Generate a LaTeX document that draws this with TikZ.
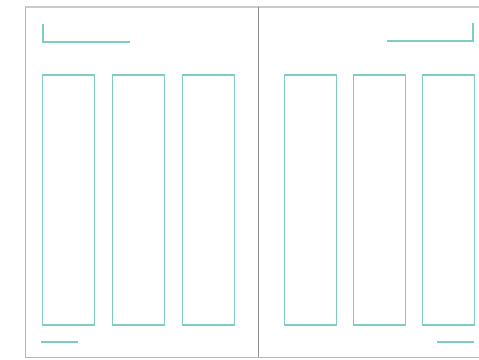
\documentclass[tikz,border=0pt]{standalone}
\usepackage{tikz}
\usetikzlibrary{positioning}

\definecolor{guide}{HTML}{7FCCC2}
\definecolor{pageedge}{HTML}{B4B4B4}
\definecolor{spine}{HTML}{8C8C8C}

\begin{document}
\begin{tikzpicture}[
  x=1pt, y=-1pt,
  col/.style={draw=guide, line width=1.1pt, minimum width=52pt, minimum height=250pt, inner sep=0pt},
  rule/.style={draw=guide, line width=1.3pt},
  edge/.style={draw=pageedge, line width=1pt}
]
\useasboundingbox (0,0) rectangle (479,359);
% page outline and spine
\draw[edge, line width=2pt, draw=pageedge!70] (479,7) -- (25,7);
\draw[edge] (25,7) -- (25,357) -- (479,357);
\draw[draw=spine, line width=0.9pt] (258,7) -- (258,357);
% left page
\node[col] (l1) at (68.5,200) {};
\node[col, right=17pt of l1] (l2) {};
\node[col, right=17pt of l2] (l3) {};
\draw[rule] (43,24) -- (43,42) -- (130,42);
\draw[rule] (41,342) -- (78,342);
% right page
\node[col] (r1) at (310.5,200) {};
\node[col, right=16pt of r1] (r2) {};
\node[col, right=16pt of r2] (r3) {};
\draw[rule] (387,41) -- (473,41) -- (473,23);
\draw[rule] (437,342) -- (474,342);
\end{tikzpicture}
\end{document}
